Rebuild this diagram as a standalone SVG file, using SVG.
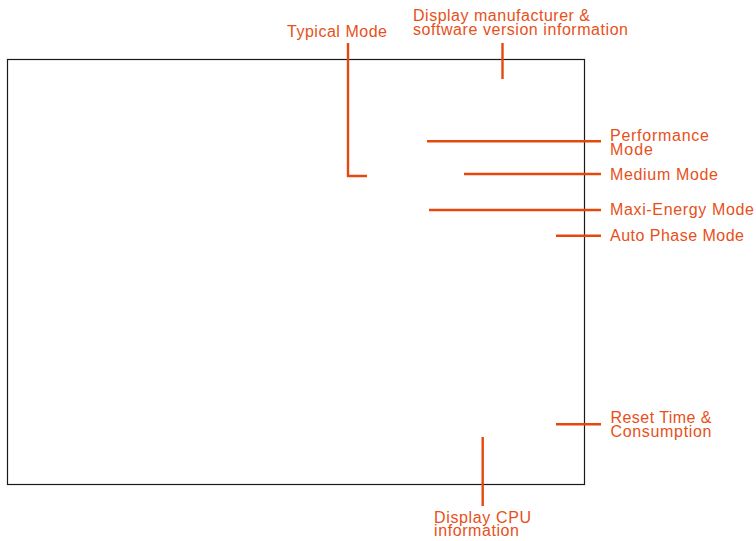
<svg xmlns="http://www.w3.org/2000/svg" width="756" height="541" viewBox="0 0 756 541">
<style>
text{font-family:"Liberation Sans",Arial,sans-serif;font-size:16px;fill:#E8501A}
.c{stroke:#E4480E;stroke-width:2.4;fill:none}
</style>
<rect width="756" height="541" fill="#fff"/>
<g id="screen"><rect x="7.5" y="59.5" width="577" height="425" fill="none" stroke="#1a1a1a" stroke-width="1.2"/></g>
<g id="connectors">
<polyline class="c" points="348,43 348,176 367,176"/>
<line class="c" x1="502.5" y1="43" x2="502.5" y2="79"/>
<line class="c" x1="427" y1="141.3" x2="601" y2="141.3"/>
<line class="c" x1="464" y1="174" x2="601" y2="174"/>
<line class="c" x1="429" y1="210" x2="601" y2="210"/>
<line class="c" x1="556" y1="235.7" x2="601" y2="235.7"/>
<line class="c" x1="556" y1="424.3" x2="601" y2="424.3"/>
<line class="c" x1="482.7" y1="437" x2="482.7" y2="506"/>
</g>
<g id="typical"><text x="287" y="36.5" textLength="100">Typical Mode</text></g>
<g id="manufacturer"><text x="413" y="21" textLength="177">Display manufacturer &amp;</text><text x="413" y="35" textLength="215">software version information</text></g>
<g id="performance"><text x="610" y="140.7" textLength="99">Performance</text><text x="610" y="155" textLength="43">Mode</text></g>
<g id="medium"><text x="610" y="180" textLength="108">Medium Mode</text></g>
<g id="maxi"><text x="610" y="215" textLength="144">Maxi-Energy Mode</text></g>
<g id="auto"><text x="610" y="240.7" textLength="134">Auto Phase Mode</text></g>
<g id="reset"><text x="610.5" y="423.3" textLength="101">Reset Time &amp;</text><text x="610.5" y="437" textLength="101">Consumption</text></g>
<g id="cpu"><text x="434" y="522.7" textLength="97">Display CPU</text><text x="434" y="536" textLength="85">information</text></g>
</svg>
